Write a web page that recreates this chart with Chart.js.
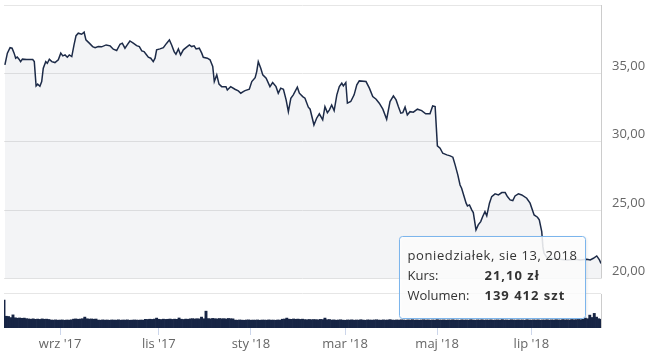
<!DOCTYPE html>
<html>
<head>
<meta charset="utf-8">
<script src="https://cdn.jsdelivr.net/npm/chart.js@4.4.1/dist/chart.umd.min.js"></script>
<style>
  body { margin: 0; background: #fff; }
  canvas { display: block; }
</style>
</head>
<body>
<canvas id="stockChart" width="650" height="354"></canvas>
<script>
// os czasu: kolejne dni sesyjne (0 = pierwszy dzien na wykresie)
const monthTickDays = [25, 69, 110, 152, 193, 235];
const monthLabels = ["wrz '17", "lis '17", "sty '18", "mar '18", "maj '18", "lip '18"];

const priceDays = [
    0.4, 1.5, 2.7, 3.6, 4.5, 5.2, 5.9, 6.7, 7.4, 8.2, 10.1, 12.8, 13.5, 14.3, 15.0, 16.0, 16.8, 17.5, 18.6, 19.3,
    20.2, 21.3, 22.7, 24.2, 25.3, 26.2, 27.2, 28.2, 29.1, 30.2, 31.2, 32.1, 33.1, 34.6, 35.7, 36.5, 38.0, 39.5, 40.6, 42.0,
    43.5, 45.5, 47.3, 48.7, 50.2, 51.7, 52.7, 53.9,
    54.9, 56.1, 57.6, 59.1, 60.3, 61.4, 62.4, 63.3, 64.3, 65.4, 66.5, 67.3, 68.0, 69.5, 71.0, 72.5, 73.7, 74.7, 75.8, 76.6,
    77.7, 78.7, 79.9, 81.1, 82.6, 83.6, 84.7, 85.6, 87.0, 88.1, 88.8, 90.6, 91.8, 93.0, 93.7, 94.8, 95.8, 97.0, 98.9, 99.5,
    101.0, 102.9, 104.4, 105.5, 106.6,
    107.4, 109.3, 110.4, 111.9, 112.6, 113.3, 114.4, 115.3, 116.8, 118.5, 119.7, 121.2, 122.2, 123.3, 124.5, 125.7, 126.7, 127.8, 128.9, 130.7,
    131.6, 133.1, 134.1, 135.6, 136.4, 138.1, 139.3, 140.5, 142.0, 143.0, 144.1, 145.0, 146.0, 147.1, 148.3, 149.4, 150.5, 151.2, 152.3, 153.0,
    154.5, 156.0, 157.2, 158.3, 161.3,
    162.8, 164.3, 165.8, 167.2, 168.8, 170.5, 172.0, 173.5, 174.7, 175.7, 176.8, 177.7, 178.7, 179.7, 180.9, 182.4, 184.2, 186.1, 187.9, 189.8,
    191.0, 192.1, 193.1, 194.3, 195.5, 197.3, 198.8, 200.0, 201.0, 202.2, 203.2, 203.9, 205.0, 205.9, 206.5, 207.4, 208.4, 209.1, 210.3, 211.3,
    212.4,
    213.3, 214.3, 215.1, 216.3, 217.3, 218.8, 220.3, 221.8, 223.3, 224.3, 225.5, 226.7, 227.7, 229.2, 230.7, 232.9, 234.4, 235.4, 236.2, 237.7,
    238.5, 239.6, 240.1, 240.6, 241.8, 244.0, 247.8, 250.8, 254.5, 256.7, 259.7, 261.2, 262.6, 264.1, 265.3, 266
];

const prices = [
    35.62, 36.48, 36.88, 36.84, 36.48, 36.11, 36.20, 36.04, 35.86, 36.04, 36.01, 36.01, 35.86, 34.08, 34.21, 34.06, 34.40, 35.38, 35.86, 35.74,
    36.04, 35.86, 35.79, 35.99, 36.48, 36.28, 36.35, 36.18, 36.35, 36.23, 37.08, 37.76, 37.94, 37.86, 38.01, 37.45, 37.21, 36.96, 36.88, 36.96,
    36.94, 37.08, 37.01, 36.77, 36.67, 37.13, 37.21, 36.84,
    37.08, 37.37, 37.21, 37.03, 36.96, 36.64, 36.59, 36.40, 36.18, 36.11, 35.86, 36.11, 36.72, 36.79, 36.88, 37.21, 37.45, 37.08, 36.59, 36.40,
    36.79, 36.35, 36.72, 36.88, 37.08, 36.96, 37.01, 36.79, 36.84, 36.48, 36.18, 36.11, 35.99, 35.50, 34.40, 34.89, 34.21, 34.03, 34.03, 33.79,
    34.03, 33.84, 33.72, 33.55, 33.67,
    33.74, 33.84, 34.40, 34.69, 35.13, 35.86, 35.38, 34.89, 34.65, 34.03, 34.33, 34.03, 33.55, 33.92, 33.84, 33.06, 32.20, 33.18, 33.43, 33.99,
    33.55, 33.30, 33.18, 32.53, 32.38, 31.23, 31.72, 32.04, 31.60, 32.57, 32.13, 32.33, 32.69, 32.28, 33.43, 34.03, 34.28, 34.08, 34.33, 32.82,
    32.94, 33.43, 34.16, 34.45, 34.40,
    33.92, 33.30, 33.11, 32.82, 32.38, 31.65, 32.94, 33.35, 33.06, 32.57, 32.09, 32.13, 32.53, 31.96, 32.20, 32.16, 32.38, 32.28, 32.04, 32.04,
    32.62, 32.57, 29.70, 29.53, 29.16, 29.04, 28.97, 28.87, 28.31, 27.58, 26.84, 26.60, 25.99, 25.51, 25.31, 25.38, 25.02, 24.82, 23.55, 23.92,
    24.16,
    24.53, 24.89, 24.58, 25.51, 25.99, 26.19, 26.11, 26.28, 26.28, 25.99, 25.75, 25.70, 26.04, 26.19, 26.11, 25.87, 25.51, 25.02, 24.65, 24.48,
    24.29, 23.43, 22.33, 21.85, 21.56, 21.48, 21.41, 21.36, 21.41, 21.36, 21.41, 21.36, 21.48, 21.65, 21.36, 21.10
];

// wolumen dzienny (szt), jeden slupek na dzien sesyjny
const volumes = [
    452000, 190000, 186000, 168000, 212000, 165000, 158000, 162000, 156000, 160000,
    151000, 146000, 142000, 148000, 140000, 144000, 139000, 147000, 141000, 143000,
    138000, 129000, 127000, 131000, 126000, 128000, 130000, 125000, 129000, 127000,
    132000, 143000, 147000, 141000, 145000, 150000, 176000, 149000, 144000, 146000,
    142000, 145000,
    128000, 126000, 131000, 127000, 129000, 125000, 130000, 128000, 127000, 132000,
    126000, 129000, 128000, 131000, 125000, 127000, 130000, 128000, 126000, 129000, 127000,
    140000, 138000, 142000, 139000, 144000, 160000, 141000, 137000, 143000, 139000,
    141000, 145000, 139000, 143000, 140000, 162000, 142000, 138000, 144000, 141000,
    148000, 151000, 146000, 150000, 147000, 176000, 149000,
    272000,
    152000, 148000, 155000, 150000, 147000, 153000, 149000, 151000, 146000, 154000, 150000, 148000,
    128000, 126000, 130000, 127000, 125000, 129000, 131000, 126000, 128000, 127000,
    130000, 125000, 129000, 128000, 126000, 131000, 127000, 128000, 125000, 130000, 127000,
    142000, 145000, 160000, 143000, 140000, 146000, 141000, 144000, 139000, 143000,
    136000, 133000, 138000, 134000, 137000, 135000, 132000, 139000, 136000, 160000, 134000, 137000,
    128000, 131000, 126000, 129000, 133000, 127000, 125000, 130000, 128000, 132000,
    126000, 129000, 127000, 134000, 128000, 125000, 131000, 129000, 127000, 130000,
    133000, 128000, 126000, 131000, 127000, 129000, 135000, 128000, 126000, 130000,
    127000, 132000, 129000, 125000, 131000, 128000, 134000, 127000, 130000, 126000,
    129000, 133000, 128000, 131000, 126000, 130000, 127000, 135000, 129000, 128000,
    131000, 126000, 130000, 128000, 133000, 127000, 129000, 125000, 132000, 128000,
    130000, 127000, 134000, 129000, 126000, 131000, 128000, 133000, 127000, 130000,
    128000, 132000, 126000, 129000, 131000, 127000, 135000, 128000, 130000, 126000,
    133000, 129000, 127000, 131000, 128000, 130000, 126000, 134000, 129000, 127000,
    131000, 128000, 132000, 126000, 130000, 129000, 133000, 127000, 131000, 128000,
    134000, 130000, 128000, 136000, 131000, 133000, 129000, 137000, 132000, 135000,
    138000, 134000, 141000,
    160000, 150000, 208000, 170000, 236000, 176000, 150000, 139412
];

const priceTicks = [20, 25, 30, 35, 40];
const lastDateLabel = 'poniedziałek, sie 13, 2018';

// podzial wysokosci: panel kursu (20-40), przerwa, panel wolumenu
const priceAxisMin = 16.38;
const volumePaneTopPrice = 18.87;
const volumePaneMax = 550000;
const volumeAxisMax = volumePaneMax * (40 - priceAxisMin) / (volumePaneTopPrice - priceAxisMin);

const navy = '#1d2b48';
const fontFamily = "'Open Sans', sans-serif";

function formatPrice(v) {
    return v.toFixed(2).replace('.', ',');
}

function formatVolume(v) {
    return String(v).replace(/\B(?=(\d{3})+(?!\d))/g, ' ');
}

const paneBorders = {
    id: 'paneBorders',
    beforeDatasetsDraw(chart) {
        const { ctx, chartArea, scales } = chart;
        const y = scales.y;
        const x = Math.round(chartArea.right) + 0.5;
        ctx.save();
        ctx.strokeStyle = '#cccccc';
        ctx.lineWidth = 1;
        ctx.beginPath();
        ctx.moveTo(x, y.getPixelForValue(40));
        ctx.lineTo(x, y.getPixelForValue(20));
        ctx.moveTo(x, y.getPixelForValue(volumePaneTopPrice));
        ctx.lineTo(x, chartArea.bottom);
        ctx.stroke();
        ctx.restore();
    }
};

const priceTooltip = {
    id: 'priceTooltip',
    afterDraw(chart) {
        const { ctx } = chart;
        const meta = chart.getDatasetMeta(0);
        const pt = meta.data[meta.data.length - 1];
        const w = 186, h = 82;
        const left = Math.round(pt.x - 16 - w) + 0.5;
        const top = Math.round(pt.y - 27) + 0.5;

        ctx.save();
        ctx.shadowColor = 'rgba(0,0,0,0.12)';
        ctx.shadowBlur = 3;
        ctx.shadowOffsetX = 1;
        ctx.shadowOffsetY = 1;
        ctx.fillStyle = 'rgba(255,255,255,0.86)';
        ctx.beginPath();
        ctx.roundRect(left, top, w, h, 3);
        ctx.fill();
        ctx.shadowColor = 'transparent';
        ctx.strokeStyle = '#7cb5ec';
        ctx.lineWidth = 1;
        ctx.stroke();

        ctx.fillStyle = '#333333';
        ctx.textBaseline = 'middle';
        ctx.textAlign = 'left';
        ctx.font = '13px ' + fontFamily;
        ctx.letterSpacing = '0.6px';
        ctx.fillText(lastDateLabel, left + 8, top + 20);
        ctx.letterSpacing = '0px';
        ctx.fillText('Kurs:', left + 8, top + 40);
        ctx.fillText('Wolumen:', left + 8, top + 60);
        ctx.font = 'bold 13px ' + fontFamily;
        ctx.letterSpacing = '1px';
        ctx.fillText(formatPrice(prices[prices.length - 1]) + ' zł', left + 85, top + 40);
        ctx.fillText(formatVolume(volumes[volumes.length - 1]) + ' szt', left + 85, top + 60);
        ctx.restore();
    }
};

function createStockChart() {
    const ctx = document.getElementById('stockChart').getContext('2d');

    new Chart(ctx, {
        type: 'line',
        data: {
            datasets: [{
                label: 'Kurs',
                data: priceDays.map((d, i) => ({ x: d, y: prices[i] })),
                yAxisID: 'y',
                borderColor: navy,
                borderWidth: 1.5,
                backgroundColor: 'rgba(28, 43, 74, 0.05)',
                fill: { value: 20 },
                pointRadius: 0,
                tension: 0
            }, {
                type: 'bar',
                label: 'Wolumen',
                data: volumes.map((v, i) => ({ x: i, y: v })),
                yAxisID: 'v',
                backgroundColor: '#172545',
                borderWidth: 0,
                barPercentage: 1,
                categoryPercentage: 1
            }]
        },
        options: {
            responsive: false,
            animation: false,
            layout: { padding: { left: 4, top: 5, right: 0, bottom: 0 } },
            plugins: {
                legend: { display: false },
                tooltip: { enabled: false }
            },
            scales: {
                x: {
                    type: 'linear',
                    min: 0,
                    max: 266,
                    offset: false,
                    afterBuildTicks: scale => {
                        scale.ticks = monthTickDays.map(v => ({ value: v }));
                    },
                    afterFit: scale => {
                        scale.height = 26;
                        scale.paddingLeft = 0;
                        scale.paddingRight = 0;
                    },
                    grid: {
                        offset: false,
                        drawOnChartArea: false,
                        drawTicks: true,
                        tickLength: 7,
                        color: '#ccd6eb'
                    },
                    border: { display: false },
                    ticks: {
                        padding: 1,
                        maxRotation: 0,
                        autoSkip: false,
                        color: '#666666',
                        font: { family: fontFamily, size: 13 },
                        callback: (value, index) => monthLabels[index]
                    }
                },
                y: {
                    position: 'right',
                    min: priceAxisMin,
                    max: 40,
                    afterBuildTicks: scale => {
                        scale.ticks = priceTicks.concat([volumePaneTopPrice]).map(v => ({ value: v }));
                    },
                    afterFit: scale => {
                        scale.width = 49;
                        scale.paddingTop = 0;
                        scale.paddingBottom = 0;
                    },
                    grid: { color: '#e6e6e6', drawTicks: false },
                    border: { display: false },
                    ticks: {
                        padding: 11,
                        labelOffset: -7,
                        crossAlign: 'near',
                        color: '#666666',
                        font: { family: fontFamily, size: 13 },
                        callback: value => (value === 40 || value === volumePaneTopPrice) ? '' : formatPrice(value)
                    }
                },
                v: {
                    display: false,
                    min: 0,
                    max: volumeAxisMax
                }
            }
        },
        plugins: [paneBorders, priceTooltip]
    });
}

document.addEventListener('DOMContentLoaded', createStockChart);
</script>
</body>
</html>
